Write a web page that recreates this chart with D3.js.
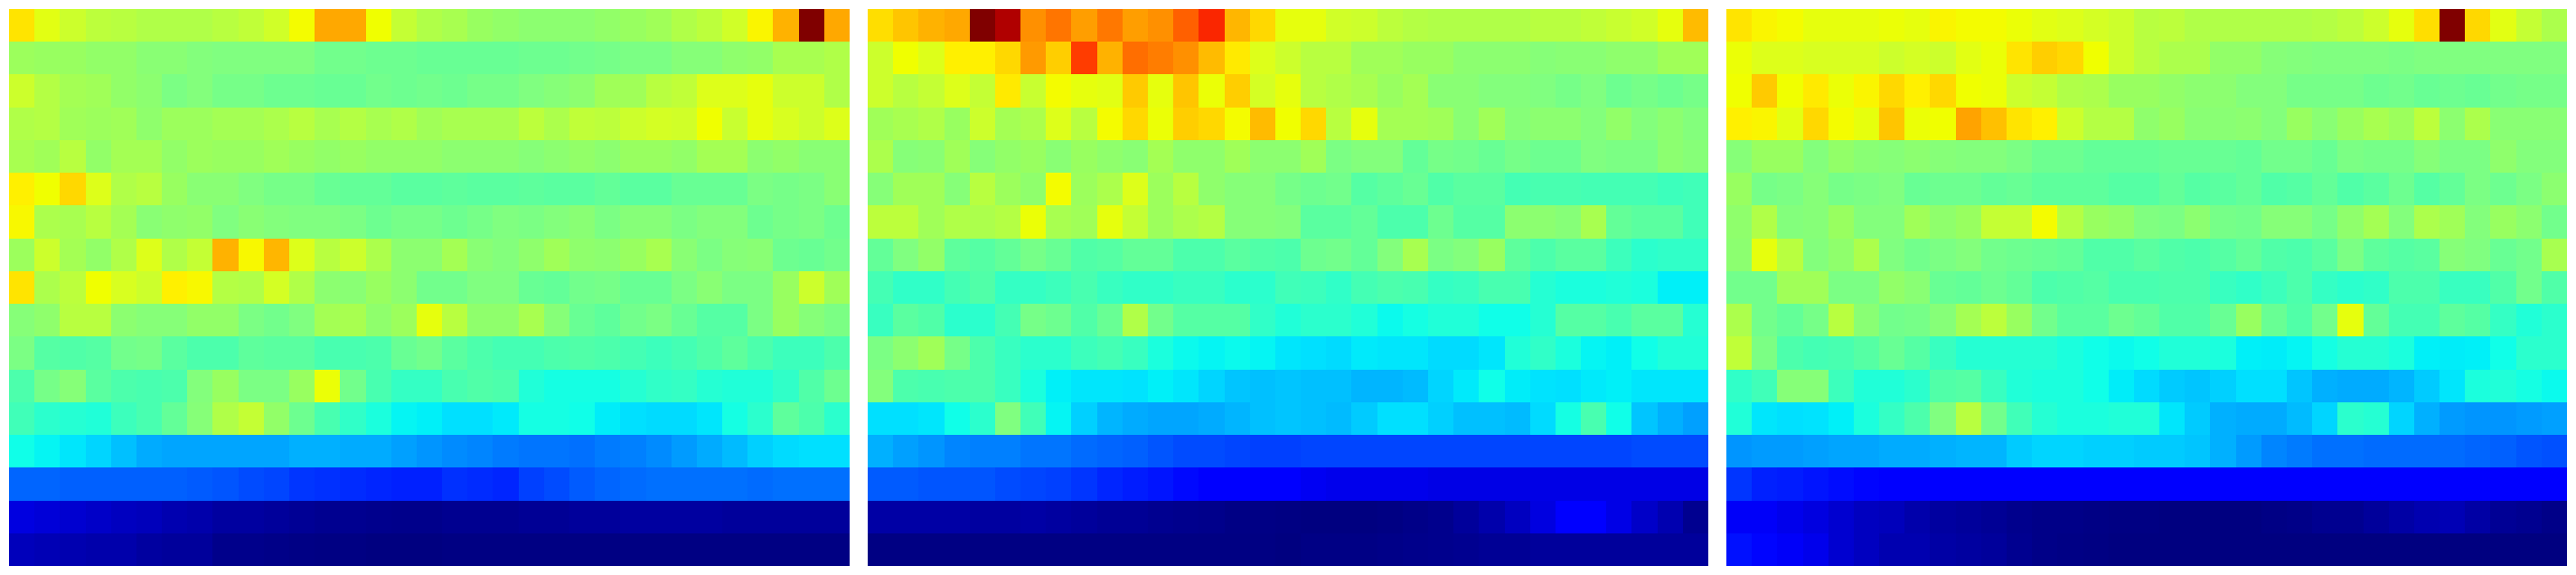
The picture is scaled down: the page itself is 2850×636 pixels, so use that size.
<!DOCTYPE html>
<html>
<head>
<meta charset="utf-8">
<style>html,body{margin:0;padding:0;background:#fff}svg{display:block}</style>
<script src="https://d3js.org/d3.v7.min.js"></script>
</head>
<body>
<script>
const panelA = [
[68,63,60.5,58.5,58,57,57,57,58,59,61,65,74,74,64.5,59.5,57,56,54,53,52,52,52,53,54,55,57,58.5,61,66,73,100,74],
[54.5,54,54,53,53,51.5,51.5,50.5,50,50,50,50,48.5,48.5,48,48,47.5,47.5,47.5,47.5,48,48,48.5,49,49.5,49.5,51,51,52.5,53,56,56,57],
[60.5,57.5,55.5,55,53,52,49.5,50.5,49,49,48,48,47.5,47.5,48.5,48,48.5,48,49,49,50,51,52,55,55,58,59,62.5,62.5,63.5,60.5,60.5,57],
[57,57.5,55,54.5,55,52.5,54.5,54.5,55.5,55.5,56.5,58,56,57.5,56,57,55,56,56,56,58.5,56.5,59,58.5,60.5,61.5,61,64.5,60,63.5,62,60.5,62.5],
[56,55,58,53,55.5,55.5,53,54.5,54,54,55,54,53,54,53,53,53,52,52,52,51,52,53,52,54,54,53,55.5,55.5,52,53,51.5,51.5],
[67,64.5,69,62.5,57,58,54,51.5,51.5,50,49,49,47.5,47,47,46,46,46.5,46,46,46.5,46,46,47,46,46,47.5,47.5,47.5,49.5,49,49.5,51.5],
[65.5,56.5,56,58,55.5,51.5,52.5,53,50,51.5,50.5,50,50,49.5,48,49,49,48,49,50,49.5,50.5,51.5,49.5,51,51,49.5,50.5,50.5,48,49,49.5,48],
[54.5,60.5,55.5,53,57,62.5,57,59.5,73,65.5,72.5,62.5,58,60.5,56.5,52,52,55.5,51.5,50.5,52.5,55,52.5,52,54,56,51.5,49.5,51,51.5,48,47.5,48.5],
[68,56.5,58.5,64.5,62,60.5,67,65.5,57.5,57,61.5,57,52,51.5,54,52,48.5,48.5,50,50,47.5,47,48.5,49,47.5,47.5,49.5,51.5,49.5,49.5,54,60.5,55],
[51,52.5,58,58,52,51,51,53,53,49.5,48.5,50,55.5,56,52.5,54.5,63.5,58,52.5,52.5,56,51,47.5,46.5,48.5,49.5,47.5,45.5,45.5,49.5,54,51,49.5],
[49.5,45.5,45,45.5,48.5,49,46,44.5,44.5,46.5,46,46,44,44,44.5,47.5,48.5,46,44.5,43.5,43.5,44.5,45,44.5,43.5,42.5,43.5,45,46.5,44.5,42.5,42.5,44.5],
[44.5,49,51,46,44.5,44,44.5,50.5,54,49.5,49.5,54,64,48.5,44,41.5,41.5,44,45,44.5,39.5,38.5,38.5,38.5,40,41,41.5,40,39.5,39.5,41,45,48],
[43,40.5,40,39.5,42.5,44,47,51,57,59.5,53,48,44,41,39,37,36.5,34,34,35.5,38.5,38.5,38,36,34,33.5,33.5,35,38.5,40.5,46.5,44.5,40.5],
[38,37,35,33,31,29,28.5,28.5,28.5,28.5,28.5,29.5,29.5,29,29,28,27,26,25.5,24.5,24,24,23.5,24.5,25,26,27.5,29,30.5,32.5,33.5,34,34],
[22.5,22.5,22,22,22,22,22,21.5,21,20,19.5,18,17.5,17,16.5,16,16,17.5,17,16.5,19,20,21.5,22.5,23,23.5,23.5,23.5,23.5,23,23.5,23.5,23.5],
[9.5,9,8.5,8,7.5,7,6,5.5,4.5,4.5,4,3.5,3,3,2.5,2,2,3,3,3,3.5,3.5,4,4,4.5,4.5,4.5,4.5,4,4,4,4,4],
[7,6.5,6,5.5,5.5,4.5,4,4,2,2,1.5,1,0.5,0.5,0,0,0,0.5,0.5,0.5,0.5,0.5,0.5,0.5,0.5,0.5,0.5,0.5,0.5,0.5,0.5,0.5,0.5]
];
const panelB = [
[68.5,71,73,74,100,96,76.5,79.5,75,79,75,76.5,82.5,88.5,72.5,69,63.5,63.5,61,60.5,58.5,57.5,57,57,57,57,58,58,59,60,61,63.5,72],
[60.5,64.5,62.5,67,67,69,75.5,70,86,73,80.5,78.5,76.5,72,67.5,62.5,60.5,58,58,55,55,54,54,52,52,52,51,51.5,51.5,52.5,52.5,55,55],
[60.5,58,59.5,62.5,59.5,67.5,60,65,63.5,63,70.5,63.5,71,64,70,61.5,63.5,58,57,56,54,55.5,51.5,51.5,50.5,50.5,50,49,50,48,49,48,49],
[55,56,57,54,60.5,55.5,56.5,62.5,58,65,69,64,70,69,65,72,64.5,69,58,63.5,55.5,55.5,55,51.5,55,51,52,52,50.5,53,50.5,52,50.5],
[56.5,51,51.5,55,51,53,54,51.5,54,52.5,51.5,55.5,52.5,52.5,55,52,52,55,49.5,50.5,50.5,47,49,48.5,47.5,49,48,48,50,49.5,49.5,52,51],
[51,55,55,51,58,54.5,52.5,65,54.5,56.5,62.5,54.5,58,52.5,51,51,49,48,48.5,45.5,46.5,47.5,45,46,46,43.5,44,44,43.5,43.5,43.5,42.5,43],
[58.5,58.5,55,57,56.5,57.5,64,56,55,63.5,59.5,54.5,56.5,57.5,51,51,50.5,46,46,47,44.5,44.5,48,45.5,45.5,52,52,51,56,47,46,46,43],
[47,50,53,46.5,45.5,47,49,47.5,45,45.5,47,47,44.5,44.5,46,45,44.5,48,48.5,47,50.5,56,49.5,50.5,54,46.5,44.5,46,46,42.5,40.5,41,41],
[43.5,41,41,43.5,45,41.5,41.5,42.5,44,42,41,41,42,42,40.5,40.5,43,42.5,41,43.5,44.5,44,41.5,42,44,44,40,39,39,39.5,39,36.5,36.5],
[42,46,45,40.5,40.5,43.5,49,48,45,47.5,57,48.5,45.5,45.5,45.5,41,39.5,40.5,40.5,39.5,37.5,38.5,39.5,39.5,38,38,40,45.5,45.5,44,46,46,40],
[49.5,52,55,49,44.5,42,40.5,40.5,42.5,43.5,42,39,37.5,37,37.5,37,35,34,33.5,35.5,35,35,33.5,33.5,35,39.5,41,39,37,36.5,38,39.5,39.5],
[50.5,44.5,44,44.5,44.5,42,39,36.5,35,35,34.5,36.5,35,33,31.5,31,31.5,31,31,30,30,30.5,33,35.5,38,36,34.5,34,35.5,36.5,35,35,35],
[34,34,35,38,40.5,50,43,37,32.5,30,29,28.5,28.5,29,30,31,31.5,31,30.5,32,34,34,32.5,31,31,30.5,33.5,38.5,44,38,31.5,29.5,28],
[29.5,28,27,25.5,25,25,24,24,23,22.5,22,21,20,20,19.5,19,19,19.5,19.5,19.5,19.5,19.5,19.5,19.5,19.5,19.5,19.5,19.5,19.5,19.5,20,20,20],
[21.5,21.5,21,21,21,20,19.5,19,18,16.5,15.5,14.5,13,12,12,12,12,11,10.5,10.5,10.5,10.5,10,10,10,10,10,10,10,10,10,10,10],
[5,5,5,5,4.5,4.5,5,4.5,4,3.5,3.5,3,2.5,2,1,1,0.5,0,0,0,0.5,1.5,2.5,4,5.5,7.5,9.5,12,12,10,8,6,3],
[0.5,0.5,0.5,0.5,0.5,0.5,0.5,0.5,0.5,0.5,0.5,0.5,0.5,0.5,0.5,0.5,0,1,1,1,1.5,2,2.5,3,3.5,3.5,4,4,4,4,4,4,4]
];
const panelC = [
[68,66,65,63.5,63.5,63.5,64,63.5,66,65,65,64,63,62.5,61.5,60.5,58,58.5,57,57,57,57,57,57.5,58.5,60.5,63.5,68.5,100,69,63,59.5,56.5],
[64,62.5,62.5,62,62,62,60.5,61.5,60.5,63,64,68,70,69,64.5,60.5,58,56.5,56.5,53,53,51,50.5,50,50,50,49.5,50,50,50,50,50,50],
[64.5,70.5,64.5,67.5,64,66,69,67,69,64.5,64,60.5,59.5,57,56.5,54,54,53,52,52,50.5,50.5,49,49,49,48,48.5,47.5,48,47.5,48.5,49,49],
[67,66,63,69,65,63.5,71,64,64.5,74.5,71.5,68,67,60.5,57.5,57.5,52.5,54,51.5,51.5,52,50.5,54,51.5,54,56,54.5,58.5,52,56.5,51.5,51.5,51.5],
[51,54,54,50.5,53,51.5,51,52,51,50.5,50.5,49.5,48,48,47,47,47,47.5,47.5,47.5,47,48.5,48.5,47.5,49.5,49,49,51,49.5,49.5,52.5,50.5,50.5],
[54,49,49.5,51,49,49.5,50,47.5,48,48,47,47.5,46.5,46.5,46.5,45.5,45.5,47,45.5,46,47,45,45.5,47,45,46,48,45.5,47,49.5,48,49.5,52],
[52.5,57,50.5,51,54,50.5,50.5,55,52.5,54,59.5,59.5,65,57.5,54,53,50,49.5,52,49,48.5,51,51,49,52.5,55.5,50.5,56.5,55,50.5,54,52,48.5],
[52,63.5,58,50.5,52.5,56.5,50,48.5,49.5,50.5,48.5,48,47.5,47,45,45,46,45,44.5,45.5,47,45,44.5,46,49.5,46.5,45.5,46,51,50,47.5,48.5,56],
[48.5,48.5,55,55,49.5,49.5,53,51.5,47.5,47,48,47,44.5,45,45.5,44,44,44.5,44.5,42,41,42.5,44.5,41.5,40.5,41,44.5,44.5,42,42,45,48.5,45],
[56.5,48.5,47,49,58,51.5,48.5,49,51,55.5,58.5,54,48.5,46,46,48,47,45,45,47.5,54,47.5,45,48.5,63.5,47,43.5,43.5,46.5,45.5,41.5,39.5,40.5],
[59,49.5,44.5,43.5,44,45.5,47.5,45.5,42,40,40,40,40,39,38,37.5,38,39.5,39.5,39,36.5,36,37,38.5,40,40,39,36.5,36,36.5,38,40.5,40.5],
[41,43,51,51,42.5,39.5,39.5,40.5,45,45.5,42,39.5,39,39,38,36,33.5,32,31.5,32.5,34,34,31.5,29.5,29,29,30,32,35,39,39.5,38.5,37.5],
[39.5,35,34,34.5,36.5,39,41.5,44.5,50,58,48.5,43,40,39,39,39.5,39.5,35,32,29.5,29,29,30.5,33,40.5,40,33,29.5,27.5,27,27,27.5,28],
[27,27.5,27.5,28,28.5,28.5,29,29,29.5,30,30,32,33,33,32.5,32.5,32,32,31.5,29.5,27.5,25.5,24.5,23.5,23.5,23,23,23,23,22.5,22,21,20.5],
[18,16,15.5,14.5,13.5,12.5,12,12,12,12,12,12,12,12,12,12,12,12,12,12,12,12,12,12,12,12,12,12,12,12,12,12,12],
[11.5,11.5,10.5,9.5,8.5,7.5,7,5.5,4.5,4,3.5,2.5,1.5,1.5,1,0.5,0.5,0,0,0,0,1,1.5,3,3,4,5,6,6.5,5,3.5,3,1.5],
[14,12.5,11.5,10.5,8.5,7.5,6,6,5,4.5,4,3,1.5,1,0.5,0,0,0,0,0,0,0,0,0,0,0,0,0,0,0,0,0,0]
];
const panels = [panelA, panelB, panelC];
const colourStops = [0,3,4.5,7.5,9.5,12,16,19,22,25,28,31,34,36.5,38,41,45,50,54,58,62,64.5,65.5,67,69,74,79,82.5,88,96,100];
const colourRange = ["#000080","#000090","#0000a0","#0000c0","#0000e0","#0000ff","#0020ff","#0040ff","#0060ff","#0080ff","#00a0ff","#00c0ff","#00e0ff","#00f0f8","#10ffe8","#30ffc8","#50ffa8","#80ff80","#98ff60","#b8ff40","#d8ff20","#f0ff00","#f8f800","#fff000","#ffd800","#ffa800","#ff7800","#ff6000","#ff2800","#b00000","#800000"];

const W = 2850, H = 636;
const colour = d3.scaleLinear().domain(colourStops).range(colourRange).clamp(true);
const svg = d3.select("body").append("svg").attr("width", W).attr("height", H);
const panelX = d3.scaleOrdinal().domain(d3.range(panels.length)).range([10, 960, 1910]);
const y = d3.scaleBand().domain(d3.range(panelA.length)).range([10, 626]);

panels.forEach((grid, p) => {
  const x0 = panelX(p);
  const x = d3.scaleBand().domain(d3.range(grid[0].length)).range([x0, x0 + 930]);
  const cells = grid.flatMap((row, r) => row.map((v, c) => ({ r, c, v })));
  svg.append("g").selectAll("rect").data(cells).join("rect")
    .attr("x", d => x(d.c))
    .attr("y", d => y(d.r))
    .attr("width", x.bandwidth())
    .attr("height", y.bandwidth())
    .attr("fill", d => colour(d.v))
    .attr("shape-rendering", "crispEdges");
});
</script>
</body>
</html>
